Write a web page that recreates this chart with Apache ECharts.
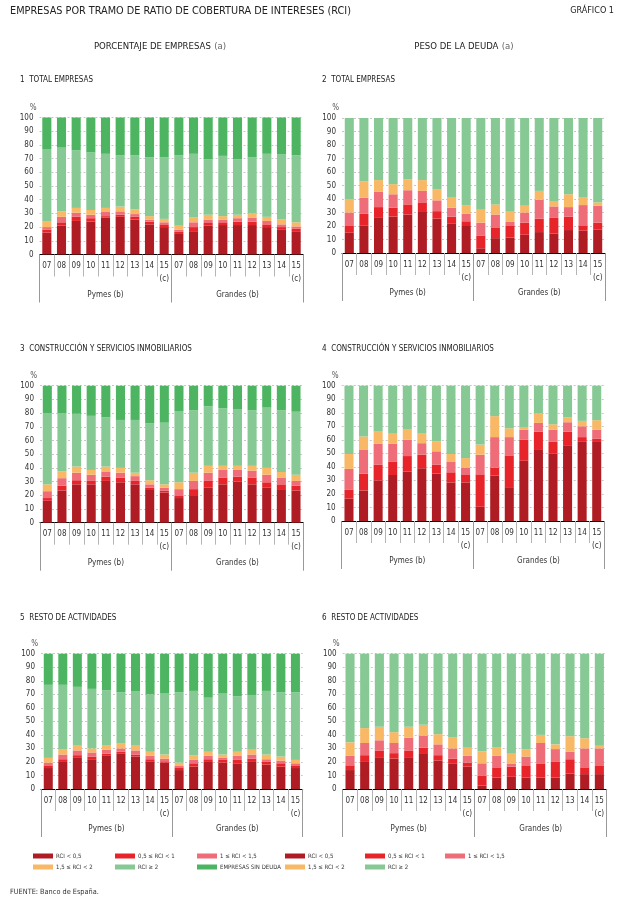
<!DOCTYPE html>
<html><head><meta charset="utf-8">
<script src="https://cdn.jsdelivr.net/npm/echarts@6/dist/echarts.min.js"></script>
<style>html,body{margin:0;padding:0;background:#fff}#c{width:628px;height:916px}</style>
</head><body><div id="c"></div>
<script>
// ---------- categories / labels ----------
const categories = ['07','08','09','10','11','12','13','14','15\n(c)','07','08','09','10','11','12','13','14','15\n(c)'];
const groups = ['Pymes (b)', 'Grandes (b)'];
const yTicks = [0,10,20,30,40,50,60,70,80,90,100];
const seriesNames = ['RCI < 0,5', '0,5 ≤ RCI < 1', '1 ≤ RCI < 1,5', '1,5 ≤ RCI < 2', 'RCI ≥ 2', 'EMPRESAS SIN DEUDA'];

// ---------- 1 TOTAL EMPRESAS (porcentaje de empresas) ----------
const p1_lt05     = [16,21,24.5,24,27,27.5,25.5,22,20, 15,17,21,21.5,21.5,21.5,20,18,16.5];
const p1_05to1    = [2,2.5,3,2.5,1,1.5,2,2,2, 1.5,3,2,2,2.5,2.5,2,2,2.5];
const p1_1to15    = [2,4,3,2.5,3,2.5,2,1.5,1.5, 1.5,3.5,2.5,2,2.5,3,2.5,2,1.5];
const p1_15to2    = [4,4,3.5,3.5,3,3.5,3.5,2.5,2.5, 3,3.5,3.5,2.5,2.5,3,3,3.5,3];
const p1_ge2      = [53,46.5,42,42,39.5,37.5,39.5,43,45, 51.5,46.5,40.5,44,40.5,41,46,47.5,49];
const p1_sinDeuda = [23,22,24,25.5,26.5,27.5,27.5,29,29, 27.5,26.5,30.5,28,30.5,29,26.5,27,27.5];

// ---------- 2 TOTAL EMPRESAS (peso de la deuda) ----------
const p2_lt05  = [15,20.5,26,27,28.5,31,25.5,22,20, 3.5,11,11.5,13.5,15.5,14.5,17,16.5,17.5];
const p2_05to1 = [5,8.5,8,6.5,7.5,6.5,5.5,5,3.5, 9.5,8,8.5,9,10,11.5,10,4,5];
const p2_1to15 = [10,12,11.5,10,10.5,8.5,8,6.5,5.5, 9.5,9.5,3,7.5,14,8.5,7,15,12.5];
const p2_15to2 = [10,12,8.5,7.5,8,8,8,7.5,6.5, 9.5,7.5,7.5,5,6.5,4,9.5,5.5,2.5];
const p2_ge2   = [60,47,46,49,45.5,46,53,59,64.5, 68,64,69.5,65,54,61.5,56.5,59,62.5];

// ---------- 3 CONSTRUCCIÓN Y SERVICIOS INMOBILIARIOS (porcentaje de empresas) ----------
const p3_lt05     = [16,23.5,28,28,30.5,29.5,28,24.5,22, 18,19.5,25.5,28,30,28,25.5,24.5,23.5];
const p3_05to1    = [2,3.5,3,2.5,3,3.5,2.5,1,1.5, 1.5,5,5,5,3.5,5,4,3.5,3.5];
const p3_1to15    = [5,5.5,5.5,4.5,3.5,3.5,3.5,2.5,2, 5,6,6,5.5,5,5,5.5,5,3.5];
const p3_15to2    = [5,5,4.5,3.5,4,3.5,2.5,3,2.5, 5,6,5,3,3,3.5,5,4,4.5];
const p3_ge2      = [52,42.5,38.5,39.5,36,35,38.5,41.5,45, 52,45.5,43.5,42,41.5,40.5,44,45,46];
const p3_sinDeuda = [20,20,20.5,22,23,25,25,27.5,27, 18.5,18,15,16.5,17,18,16,18,19];

// ---------- 4 CONSTRUCCIÓN Y SERVICIOS INMOBILIARIOS (peso de la deuda) ----------
const p4_lt05  = [16.5,22.5,30,34,36.5,39,35,28.5,28.5, 10.5,33.5,25,44.5,52.5,50,56,58.5,59];
const p4_05to1 = [6.5,12.5,11.5,10,11.5,10,6.5,7.5,5.5, 24,6,23.5,15.5,13.5,8.5,10,3.5,2];
const p4_1to15 = [15.5,17.5,15.5,13,12,8.5,10,8,5.5, 14.5,22.5,13.5,7.5,6.5,9,7,8,6.5];
const p4_15to2 = [11,10,9,7.5,7.5,7.5,7.5,5.5,7, 7.5,15.5,6.5,2,7,4,3.5,4,7];
const p4_ge2   = [50.5,37.5,34,35.5,32.5,35,41,50.5,53.5, 43.5,22.5,31.5,30.5,20.5,28.5,23.5,26,25.5];

// ---------- 5 RESTO DE ACTIVIDADES (porcentaje de empresas) ----------
const p5_lt05     = [15.5,20,23,22,24.5,26,24,20.5,19.5, 14,16.5,20,19.5,19,20,18,16.5,15.5];
const p5_05to1    = [1.5,2,2,2,1.5,1.5,1.5,1.5,1, 2,2.5,2,2,2.5,2.5,2,2.5,1.5];
const p5_1to15    = [2.5,3.5,3.5,3,3,2.5,3,2.5,2, 1,2.5,2.5,1.5,3,3,2,2,2];
const p5_15to2    = [3.5,4,3.5,3,3.5,3.5,3.5,3,3, 2.5,3.5,3,2.5,3,3.5,3.5,3,2.5];
const p5_ge2      = [54,47.5,43.5,44,40.5,38,40,42.5,45, 52,47.5,40,45,41,40.5,47,47.5,50];
const p5_sinDeuda = [23,23,24.5,26,27,28.5,28,30,29.5, 28.5,27.5,32.5,29.5,31.5,30.5,27.5,28.5,28.5];

// ---------- 6 RESTO DE ACTIVIDADES (peso de la deuda) ----------
const p6_lt05  = [14,20,23.5,22.5,23.5,26.5,21,19,16.5, 2.5,8.5,9,8.5,8.5,8.5,11.5,11,11];
const p6_05to1 = [3.5,5,5,4,5,4,4,3.5,3, 7.5,7.5,7.5,8.5,10,11.5,10.5,5,6];
const p6_1to15 = [7,9,7.5,7.5,9.5,9,8,7.5,5, 9,8.5,2,7,15.5,9.5,5.5,14,13];
const p6_15to2 = [10,11,10,8,8,8,7.5,8,6, 9,6.5,7.5,5.5,6,3.5,11.5,7.5,2];
const p6_ge2   = [65.5,55,54,58,54,52.5,59.5,62,69.5, 72,69,74,70.5,60,67,61,62.5,68];

// ---------- styling ----------
const colors = ['#b01c24', '#e8242b', '#ee6d78', '#f8b866', '#86c995', '#4db561'];
const FONT = "'Liberation Sans Narrow','DejaVu Sans Condensed','Liberation Sans',sans-serif";

const panels = [
  { title: '1  TOTAL EMPRESAS', grid: {left: 39.5, top: 117.5, width: 264, height: 137},
    data: [p1_lt05, p1_05to1, p1_1to15, p1_15to2, p1_ge2, p1_sinDeuda], tx: 20, ty: 80 },
  { title: '2  TOTAL EMPRESAS', grid: {left: 342, top: 118, width: 263, height: 135},
    data: [p2_lt05, p2_05to1, p2_1to15, p2_15to2, p2_ge2], tx: 322, ty: 80 },
  { title: '3  CONSTRUCCIÓN Y SERVICIOS INMOBILIARIOS', grid: {left: 40, top: 385.7, width: 263.3, height: 137},
    data: [p3_lt05, p3_05to1, p3_1to15, p3_15to2, p3_ge2, p3_sinDeuda], tx: 20, ty: 349 },
  { title: '4  CONSTRUCCIÓN Y SERVICIOS INMOBILIARIOS', grid: {left: 341.7, top: 385.7, width: 262.3, height: 135.3},
    data: [p4_lt05, p4_05to1, p4_1to15, p4_15to2, p4_ge2], tx: 322, ty: 349 },
  { title: '5  RESTO DE ACTIVIDADES', grid: {left: 41, top: 653.7, width: 261.7, height: 135.3},
    data: [p5_lt05, p5_05to1, p5_1to15, p5_15to2, p5_ge2, p5_sinDeuda], tx: 20, ty: 618 },
  { title: '6  RESTO DE ACTIVIDADES', grid: {left: 342.7, top: 653.7, width: 264, height: 135.3},
    data: [p6_lt05, p6_05to1, p6_1to15, p6_15to2, p6_ge2], tx: 322, ty: 618 }
];

const grid = [], xAxis = [], yAxis = [], series = [];
const graphic = [];
panels.forEach((p, i) => {
  grid.push(Object.assign({}, p.grid));
  xAxis.push({
    type: 'category', gridIndex: i, data: categories, position: 'bottom',
    axisLine: {show: true, lineStyle: {color: '#000', width: 1}},
    axisTick: {show: true, interval: 0, length: 22, lineStyle: {color: '#b5b5b5', width: 1}},
    axisLabel: {interval: 0, margin: 5, fontSize: 8, lineHeight: 13, color: '#333', fontFamily: FONT},
    splitLine: {show: false}
  });
  xAxis.push({
    type: 'category', gridIndex: i, data: groups, position: 'bottom',
    axisLine: {show: false},
    axisTick: {show: true, interval: 0, length: 48, lineStyle: {color: '#999', width: 1}},
    axisLabel: {interval: 0, margin: 36, fontSize: 8, color: '#333', fontFamily: FONT},
    splitLine: {show: false}
  });
  yAxis.push({
    type: 'value', gridIndex: i, min: yTicks[0], max: yTicks[yTicks.length - 1], interval: 10,
    name: '%', nameLocation: 'end', nameGap: 6,
    nameTextStyle: {fontSize: 8, color: '#555', align: 'right', padding: [0, 3, 0, 0], fontFamily: FONT},
    axisLine: {show: false}, axisTick: {show: false},
    axisLabel: {fontSize: 8, color: '#333', margin: 6, fontFamily: FONT},
    splitLine: {show: true, lineStyle: {color: '#c8c8c8', type: [2, 2], width: 1}}
  });
  p.data.forEach((arr, k) => {
    series.push({
      name: seriesNames[k], type: 'bar', stack: 'p' + i,
      xAxisIndex: 2 * i, yAxisIndex: i, data: arr,
      barCategoryGap: '38%',
      itemStyle: {color: colors[k]},
      emphasis: {disabled: true},
      animation: false
    });
  });
  graphic.push({type: 'text', x: p.tx, y: p.ty,
    style: {text: p.title, font: '8px ' + FONT, fill: '#222', verticalAlign: 'middle'}});
});

graphic.push({type: 'text', x: 10, y: 11,
  style: {text: 'EMPRESAS POR TRAMO DE RATIO DE COBERTURA DE INTERESES (RCI)', font: '10.8px ' + FONT, fill: '#222', verticalAlign: 'middle'}});
graphic.push({type: 'text', x: 614, y: 11,
  style: {text: 'GRÁFICO 1', font: '9px ' + FONT, fill: '#222', align: 'right', verticalAlign: 'middle'}});
graphic.push({type: 'text', x: 160, y: 47,
  style: {text: '{b|PORCENTAJE DE EMPRESAS} {a|(a)}', align: 'center', verticalAlign: 'middle',
    rich: {b: {font: '9.5px ' + FONT, fill: '#222'}, a: {font: '9.5px ' + FONT, fill: '#666'}}}});
graphic.push({type: 'text', x: 464, y: 47,
  style: {text: '{b|PESO DE LA DEUDA} {a|(a)}', align: 'center', verticalAlign: 'middle',
    rich: {b: {font: '9.5px ' + FONT, fill: '#222'}, a: {font: '9.5px ' + FONT, fill: '#666'}}}});
graphic.push({type: 'text', x: 10, y: 892,
  style: {text: 'FUENTE: Banco de España.', font: '7.3px ' + FONT, fill: '#333', verticalAlign: 'middle'}});

// legends (one per column)
const legendCols = [
  {left: 33, names: [seriesNames[0], seriesNames[3]]},
  {left: 115, names: [seriesNames[1], seriesNames[4]]},
  {left: 197, names: [seriesNames[2], seriesNames[5]]},
  {left: 285, names: [seriesNames[0], seriesNames[3]]},
  {left: 365, names: [seriesNames[1], seriesNames[4]]},
  {left: 445, names: [seriesNames[2]]}
];
const legend = legendCols.map(c => ({
  left: c.left, top: 853, orient: 'vertical', data: c.names,
  icon: 'rect', itemWidth: 20, itemHeight: 5, itemGap: 5, padding: 0,
  selectedMode: false,
  textStyle: {fontSize: 6, color: '#333', fontFamily: FONT, padding: [0, 0, 0, -2]}
}));

const chart = echarts.init(document.getElementById('c'), null, {renderer: 'canvas'});
chart.setOption({
  animation: false,
  backgroundColor: '#fff',
  textStyle: {fontFamily: FONT},
  grid, xAxis, yAxis, series, legend, graphic
});
</script></body></html>
